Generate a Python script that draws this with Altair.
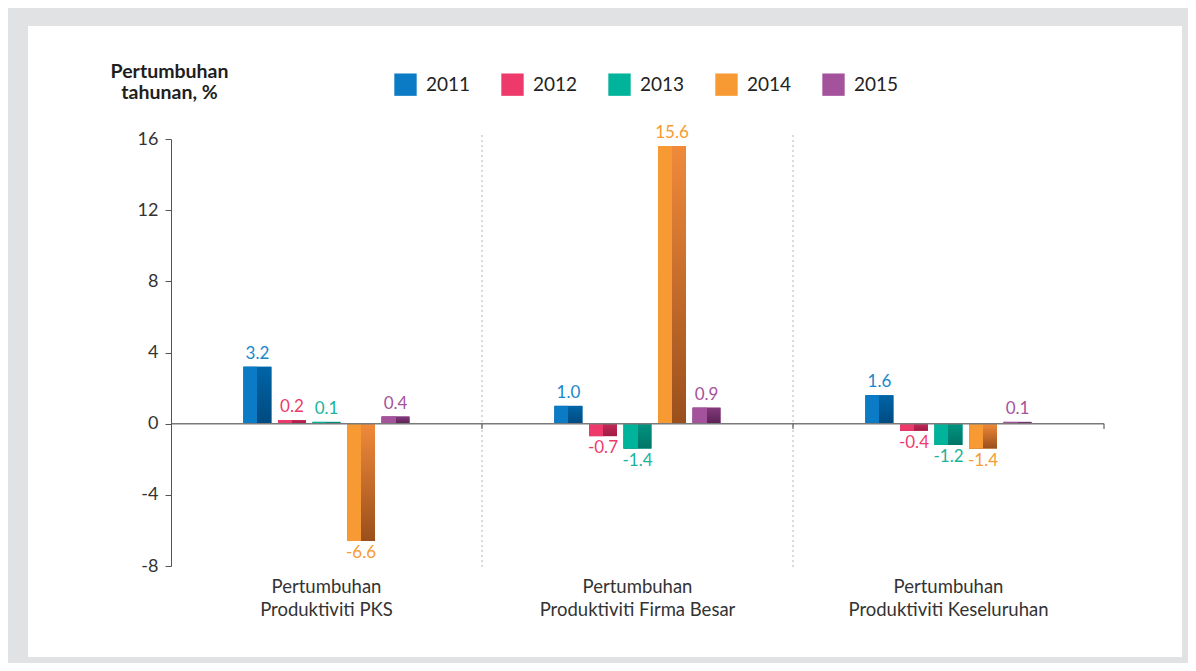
import altair as alt
import pandas as pd

groups = ["Pertumbuhan Produktiviti PKS",
          "Pertumbuhan Produktiviti Firma Besar",
          "Pertumbuhan Produktiviti Keseluruhan"]
years = ["2011", "2012", "2013", "2014", "2015"]
v2011 = [3.2, 1.0, 1.6]
v2012 = [0.2, -0.7, -0.4]
v2013 = [0.1, -1.4, -1.2]
v2014 = [-6.6, 15.6, -1.4]
v2015 = [0.4, 0.9, 0.1]
series = [v2011, v2012, v2013, v2014, v2015]

main_colors = ["#0a7bc4", "#ee3a6b", "#00b39b", "#f79a34", "#a5529c"]
main_clear = ["rgba(10,123,196,0)", "rgba(238,58,107,0)", "rgba(0,179,155,0)",
              "rgba(247,154,52,0)", "rgba(165,82,156,0)"]
dark_top = ["#0065a6", "#c42a58", "#009480", "#f08a3a", "#823a7c"]
dark_bot = ["#004a80", "#a01c46", "#007566", "#9a4f1c", "#5a2254"]
text_colors = ["#1a87cc", "#ee3a6b", "#1ab39b", "#f79a34", "#a5529c"]

rows = []
for y, vals in zip(years, series):
    for g, v in zip(groups, vals):
        rows.append({"group": g, "year": y, "value": v, "label": f"{v:.1f}"})
df = pd.DataFrame(rows)

FONT = "Lato"
W, H = 933, 427
STEP = W / 3

xscale = alt.Scale(domain=groups, paddingInner=0.244, paddingOuter=0.122)
xenc = alt.X("group:N", sort=groups, scale=xscale,
             axis=alt.Axis(title=None, domain=False, ticks=False, labelAngle=0,
                           labelAlign="center", labelLimit=0,
                           labelFontSize=18.5, labelColor="#333333", labelFont=FONT,
                           labelPadding=20, labelLineHeight=23, zindex=2,
                           labelExpr="[slice(datum.label,0,indexof(datum.label,' ')), slice(datum.label,indexof(datum.label,' ')+1)]"))
xoff = alt.XOffset("year:N", scale=alt.Scale(domain=years, paddingInner=0.19, paddingOuter=1))
yenc = alt.Y("value:Q",
             scale=alt.Scale(domain=[-8, 16], nice=False, zero=False),
             axis=alt.Axis(values=[-8, -4, 0, 4, 8, 12, 16], grid=False, zindex=2,
                           labelExpr="datum.value + ''",
                           domainColor="#555555", tickColor="#555555", tickSize=6,
                           labelFontSize=18, labelColor="#333333", labelFont=FONT,
                           labelPadding=7,
                           title=["Pertumbuhan", "tahunan, %"], titleAngle=0,
                           titleAlign="center", titleBaseline="top",
                           titleX=-2, titleY=-77, titleFontSize=19.5,
                           titleFont=FONT, titleFontWeight="bold",
                           titleColor="#1e1e1e", titleLineHeight=21))

base = alt.Chart(df)

panel = alt.Chart(alt.Data(values=[{"a": 1}])).mark_rect(color="white").encode(
    x=alt.value(-143), x2=alt.value(1011), y=alt.value(-113), y2=alt.value(518))

seps = alt.Chart(pd.DataFrame({"group": groups[:2]})).mark_rule(
    color="#b5b5b5", strokeDash=[2, 3], strokeWidth=1, xOffset=STEP / 2).encode(
    x=alt.X("group:N", scale=xscale, sort=groups),
    y=alt.value(-4), y2=alt.value(428))

bars = base.mark_bar().encode(
    x=xenc, xOffset=xoff, y=yenc, y2=alt.datum(0),
    color=alt.Color("year:N", scale=alt.Scale(domain=years, range=main_colors),
                    legend=alt.Legend(title=None, orient="none", direction="horizontal",
                                      legendX=223, legendY=-66, symbolType="square",
                                      symbolSize=500, symbolStrokeWidth=0,
                                      symbolOpacity=1,
                                      labelFontSize=19, labelColor="#222222",
                                      labelFont=FONT, labelOffset=9,
                                      columnPadding=30)))

layers = [panel, seps, bars]

for i, y in enumerate(years):
    vgrad = alt.Gradient(gradient="linear",
                         stops=[alt.GradientStop(color=dark_top[i], offset=0),
                                alt.GradientStop(color=dark_bot[i], offset=1)],
                         x1=0, x2=0, y1=0, y2=1)
    hgrad = alt.Gradient(gradient="linear",
                         stops=[alt.GradientStop(color=main_colors[i], offset=0),
                                alt.GradientStop(color=main_colors[i], offset=0.5),
                                alt.GradientStop(color=main_clear[i], offset=0.5),
                                alt.GradientStop(color=main_clear[i], offset=1)],
                         x1=0, x2=1, y1=0, y2=0)
    sub = base.transform_filter(alt.datum.year == y)
    dark = sub.mark_bar(color=vgrad).encode(
        x=xenc, xOffset=xoff, y=yenc, y2=alt.datum(0))
    light = sub.mark_bar(color=hgrad).encode(
        x=xenc, xOffset=xoff, y=yenc, y2=alt.datum(0))
    layers += [dark, light]

zero = alt.Chart(alt.Data(values=[{"a": 1}])).mark_rule(
    color="#7a7a7a", strokeWidth=1.5).encode(
    y=alt.datum(0), x=alt.value(0), x2=alt.value(W))
layers.append(zero)

ticks = alt.Chart(pd.DataFrame({"group": groups})).mark_rule(
    color="#444444", strokeWidth=1, xOffset=STEP / 2).encode(
    x=alt.X("group:N", scale=xscale, sort=groups),
    y=alt.datum(0), y2=alt.datum(-0.3))
layers.append(ticks)

for i, y in enumerate(years):
    pos = base.transform_filter((alt.datum.year == y) & (alt.datum.value >= 0)).mark_text(
        baseline="bottom", dy=-4, fontSize=17, font=FONT, color=text_colors[i]).encode(
        x=xenc, xOffset=xoff, y=yenc, text="label:N")
    neg = base.transform_filter((alt.datum.year == y) & (alt.datum.value < 0)).mark_text(
        baseline="top", dy=4, fontSize=17, font=FONT, color=text_colors[i]).encode(
        x=xenc, xOffset=xoff, y=yenc, text="label:N")
    layers += [pos, neg]

chart = alt.layer(*layers).properties(
    width=W, height=H,
    autosize=alt.AutoSizeParams(type="none"),
    padding={"left": 163, "top": 131, "right": 84, "bottom": 97},
    background="#e1e2e4",
).configure_view(stroke=None)

chart.save("out.html", embed_options={"renderer": "svg", "actions": False})
